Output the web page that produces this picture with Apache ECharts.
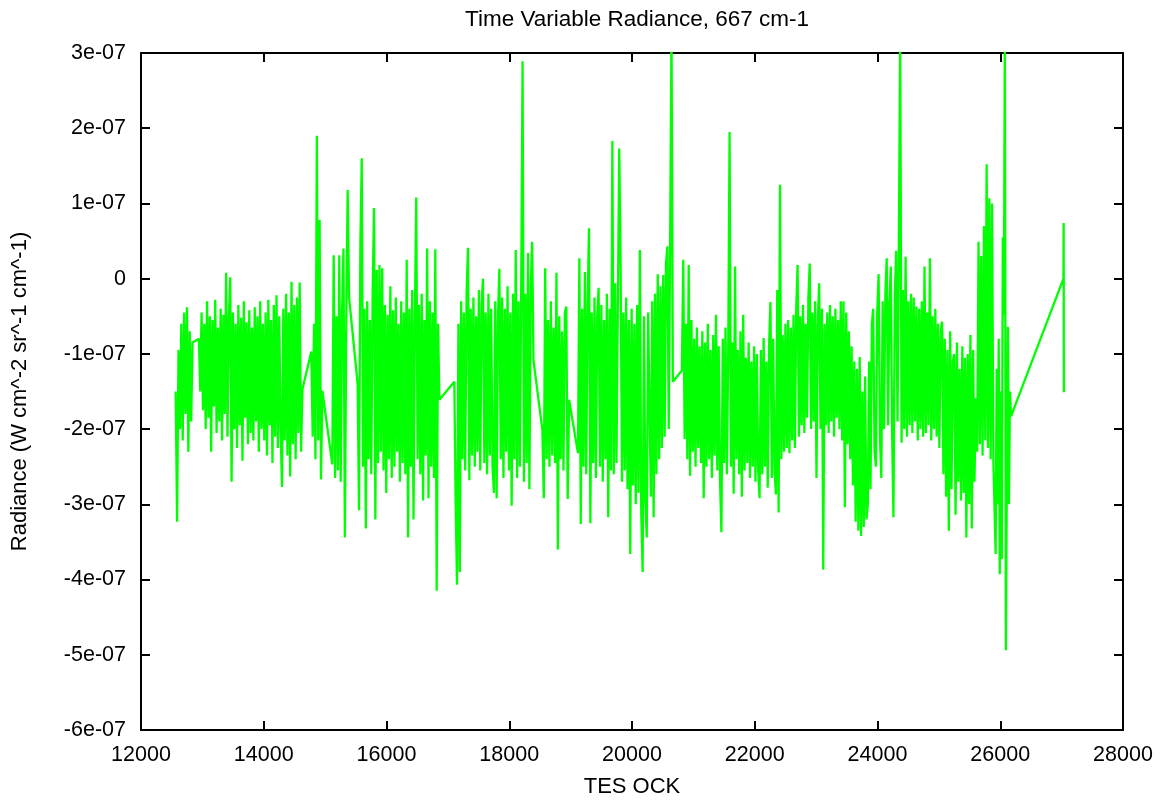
<!DOCTYPE html>
<html>
<head>
<meta charset="utf-8">
<script src="https://cdn.jsdelivr.net/npm/echarts@6/dist/echarts.min.js"></script>
<style>
html,body{margin:0;padding:0;background:#fff;}
#chart{width:1165px;height:803px;}
</style>
</head>
<body>
<div id="chart"></div>
<script>
// ---- data (radiance values in units of 1e-9 W cm^-2 sr^-1 cm^-1) ----
const SCALE = 1e-9;
const titleText = 'Time Variable Radiance, 667 cm-1';
const xName = 'TES OCK';
const yName = 'Radiance (W cm^-2 sr^-1 cm^-1)';
const xMin = 12000, xMax = 28000, xStep = 2000;
const yMin = -6e-7, yMax = 3e-7, yStep = 1e-7;

// start / end OCK of each contiguous block of samples
const segStartX = [12565, 12943, 14775, 15117, 15530, 17105, 18540, 19120, 20813, 22522, 23842, 25074, 25602, 25925];
const segEndX   = [12840, 14630, 14955, 15390, 16862, 18395, 18975, 20666, 22500, 23820, 25052, 25580, 25888, 26175];

const segA = [-150, -323, -95, -200, -60, -215, -45, -180, -38, -230, -70, -190, -85];
const segB = [-80, -150, -45, -175, -60, -200, -30, -185, -50, -230,
  -55, -170, -28, -205, -65, -190, -40, -215, -48, -180,
  8, -210, -55, 2, -270, -45, -200, -60, -225, -35,
  -195, -52, -242, -30, -185, -58, -220, -42, -205, -65,
  -215, -38, -190, -50, -230, -30, -200, -60, -215, -45,
  -235, -28, -195, -55, -245, -35, -210, -22, -225, -50,
  -200, -277, -40, -215, -20, -235, -45, -263, -4, -220,
  -35, -240, -25, -205, -5, -230, -147];
const segC = [-97, -210, -60, -240, 190, -215, 78, -267, -149];
const segD = [-247, 31, -265, -50, -255, 31, -270, -45, 40, -344, -60, 118, -25];
const segE = [-140, -308, 46, 160, -250, -40, -332, -30, -240, -55,
  -260, -20, 94, -320, 12, -245, 18, -230, 14, -255,
  -35, -285, -48, -240, -10, -265, -42, -250, -25, -230,
  -60, -270, -30, -245, -45, -260, 25, -344, -40, -250,
  -15, -320, -50, 108, -240, -35, -260, -20, -295, -55,
  -235, 40, -292, -30, -250, -45, -265, 39, -415, -60,
  -161];
const segF = [-137, -302, -407, -60, -390, -30, -240, -45, -255, -20,
  41, -268, -40, -235, -25, -250, -50, -230, -15, -255,
  -35, 0, -245, -45, -260, -20, -235, -40, -250, -285,
  -30, -292, -50, 13, -240, -25, -265, -40, -230, -10,
  -255, -45, -302, -20, -240, 38, -265, -30, -250, -15,
  289, -270, -20, -245, 34, -280, -10, 49, -109];
const segG = [-201, -292, 14, -240, -55, -250, -30, -235, -65, -245, 8, -360, -50, -240, -70, -255, -45, -37, -293, -161];
const segH = [-232, 27, -326, -40, -250, 9, -260, -30, 67, -325,
  -45, -245, -25, -265, -50, -12, -250, -35, -270, -55,
  -240, -20, -317, -40, -255, 183, -260, -6, -245, -30,
  173, 15, -270, -45, -255, -25, -280, -55, -366, -40,
  -275, -60, -300, -35, -285, 38, -310, -390, -50, -295,
  -344, -45, -43, -290, -30, -317, -20, -260, 6, -240,
  -10, -225, 5, -210, 20, 43, -200, 46, 330, -137];
const segI = [-122, 25, -213, -60, -240, 18, -262, -55, -230, -80,
  -250, -65, -225, -90, -245, -70, -292, -85, -250, -60,
  -240, -95, -265, -75, -235, -48, -255, -90, -270, -337,
  -80, -245, -65, -260, -100, 195, -250, -85, -286, 16,
  -240, -95, -260, -70, -290, -48, -255, -105, -245, -85,
  -265, -110, -250, -90, -270, -100, -255, -292, -95, -260,
  -79, -250, -110, -278, -90, -31, -265, -80, -255, -287,
  -15, -311, 125, -240, -75, -230, -60];
const segJ = [-225, -55, -232, -65, -215, -48, -225, -40, 18, -210,
  -50, -195, -35, -205, -60, -185, -25, 20, -200, -45,
  -190, -30, -265, -55, -6, -200, -40, -387, -60, -195,
  -45, -205, -35, -190, -50, -210, -40, -185, -55, -200,
  -30, -215, -30, -304, -45, -220, -70, -240, -90, -275,
  -110, -323, -120, -335, -104, -342, -150, -330, -130, -320];
const segK = [-300, -110, -280, -60, -40, -230, -250, -45, 6, -210,
  -265, -30, -200, -20, 27, -195, -35, 16, -205, -317,
  -25, 37, -190, 43, 330, -218, -15, -200, 29, -210,
  -30, -195, -20, -205, -25, -190, -37, -215, -40, -200,
  -30, -210, 16, -205, -45, -195, 27, -215, -50, -200,
  -40, -210, -60, -225, -70, -57];
const segL = [-260, -80, -290, -95, -335, -70, -280, -110, -100, -314, -85, -270, -120, -295, -90, -285, -105, -344, -100, -300, -75, -332, -95, -270];
const segM = [-159, -230, 49, -220, 30, -235, 70, -215, 152, -225, 107, -240, 100, -243];
const segN = [-366, -120, -300, -80, -393, -150, -373, 55, -48, 330, -494, -250, -64, -300, -150, -183];

const tailX = [27030, 27033, 27036];
const tailY = [0, 74, -151];

const segValues = [segA, segB, segC, segD, segE, segF, segG, segH, segI, segJ, segK, segL, segM, segN];

// ---- build series data ----
const data = [];
segValues.forEach((vals, s) => {
  const x0 = segStartX[s], x1 = segEndX[s], n = vals.length;
  vals.forEach((v, i) => {
    data.push([x0 + (x1 - x0) * i / (n - 1), v * SCALE]);
  });
});
tailX.forEach((x, i) => data.push([x, tailY[i] * SCALE]));

const FONT = 'Liberation Sans, Arial, Helvetica, sans-serif';
const FS = 21.5;
const FS_NAME = 22;

function yFmt(v) {
  const k = Math.round(v * 1e7);
  return k === 0 ? '0' : k + 'e-07';
}
function xFmt(v) { return String(Math.round(v)); }

const axisLine = { show: true, onZero: false, lineStyle: { color: '#000', width: 2 } };
const axisTick = { show: true, inside: true, length: 9, lineStyle: { color: '#000', width: 2 } };

const chart = echarts.init(document.getElementById('chart'), null, { renderer: 'canvas' });
chart.setOption({
  animation: false,
  backgroundColor: '#fff',
  title: {
    text: titleText,
    left: 632, top: 3, textAlign: 'center',
    textStyle: { fontFamily: FONT, fontSize: 22.5, fontWeight: 'normal', color: '#000' }
  },
  grid: { left: 141, right: 42, top: 53, bottom: 73, containLabel: false },
  xAxis: [{
    type: 'value', min: xMin, max: xMax, interval: xStep, position: 'bottom',
    name: xName, nameLocation: 'middle', nameGap: 46,
    nameTextStyle: { fontFamily: FONT, fontSize: FS_NAME, color: '#000' },
    axisLine, axisTick,
    axisLabel: { margin: 14, fontFamily: FONT, fontSize: FS, color: '#000', formatter: xFmt },
    splitLine: { show: false }
  }, {
    type: 'value', min: xMin, max: xMax, interval: xStep, position: 'top',
    axisLine, axisTick, axisLabel: { show: false }, splitLine: { show: false }
  }],
  yAxis: [{
    type: 'value', min: yMin, max: yMax, interval: yStep, position: 'left',
    name: yName, nameLocation: 'middle', nameGap: 110, nameRotate: 90,
    nameTextStyle: { fontFamily: FONT, fontSize: FS_NAME, color: '#000' },
    axisLine, axisTick,
    axisLabel: { margin: 15, fontFamily: FONT, fontSize: FS, color: '#000', formatter: yFmt },
    splitLine: { show: false }
  }, {
    type: 'value', min: yMin, max: yMax, interval: yStep, position: 'right',
    axisLine, axisTick, axisLabel: { show: false }, splitLine: { show: false }
  }],
  series: [{
    type: 'line',
    xAxisIndex: 0, yAxisIndex: 0,
    data: data,
    showSymbol: false, symbol: 'none',
    sampling: null,
    clip: true,
    lineStyle: { color: '#00ff00', width: 2.3 },
    itemStyle: { color: '#00ff00' }
  }]
});
</script>
</body>
</html>
